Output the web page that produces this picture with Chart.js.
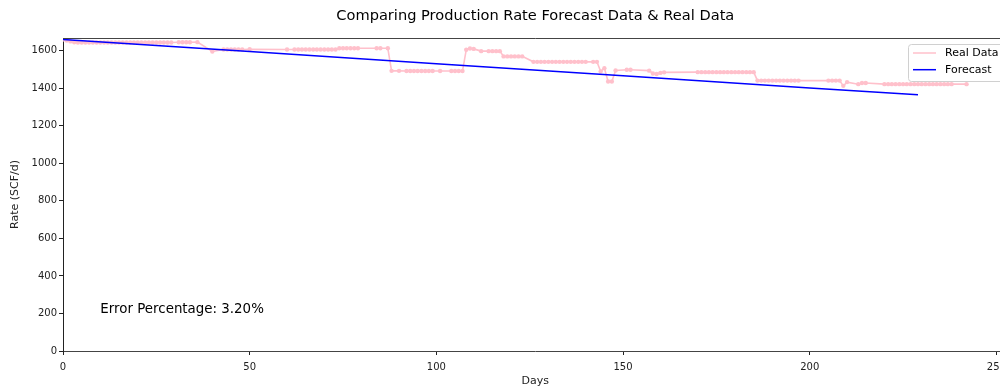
<!DOCTYPE html>
<html lang="en">
<head>
    <meta charset="UTF-8">
    <title>Production Rate Forecast vs Real Data</title>
    <script src="https://cdn.jsdelivr.net/npm/chart.js"></script>
    <style>
        body {
            margin: 0;
            overflow: hidden;
            background: white;
            font-family: "DejaVu Sans", sans-serif;
        }
    </style>
</head>
<body>
<canvas id="rateChart" width="1012" height="389"></canvas>

<script>
    // real production data (days / rate)
    const realDays = [0, 1, 2, 3, 4, 5, 6, 7, 8, 9, 10, 11, 12, 13, 14, 15, 16, 17, 18, 19, 20, 21, 22, 23, 24, 25, 26, 27, 28, 29,
        31, 32, 33, 34, 36, 40, 43, 44, 45, 46, 47, 48, 50,
        60, 62, 63, 64, 65, 66, 67, 68, 69, 70, 71, 72, 73, 74, 75, 76, 77, 78, 79, 84, 85, 87,
        88, 90, 92, 93, 94, 95, 96, 97, 98, 99, 101, 104, 105, 106, 107,
        108, 109, 110, 112, 114, 115, 116, 117, 118, 119, 120, 121, 122, 123,
        126, 127, 128, 129, 130, 131, 132, 133, 134, 135, 136, 137, 138, 139, 140, 142, 143,
        144, 145, 146, 147, 148, 151, 152, 157, 158, 159, 160, 161,
        170, 171, 172, 173, 174, 175, 176, 177, 178, 179, 180, 181, 182, 183, 184, 185,
        186, 187, 188, 189, 190, 191, 192, 193, 194, 195, 196, 197, 205, 206, 207, 208, 209, 210, 213, 214, 215,
        220, 221, 222, 223, 224, 225, 226, 227, 228, 229, 230, 231, 232, 233, 234, 235, 236, 237, 238, 242];
    const realRates = [1660, 1655, 1650, 1645, 1644, 1644, 1644, 1644, 1644, 1644, 1644, 1644, 1644, 1644, 1644, 1644, 1644, 1644, 1644, 1644, 1644, 1644, 1644, 1644, 1644, 1644, 1644, 1644, 1644, 1644,
        1645, 1645, 1645, 1645, 1646, 1596, 1607, 1607, 1607, 1607, 1607, 1607, 1608,
        1607, 1607, 1607, 1607, 1607, 1607, 1607, 1607, 1607, 1607, 1607, 1607, 1607, 1613, 1613, 1613, 1613, 1613, 1613, 1613, 1613, 1613,
        1493, 1493, 1492, 1492, 1492, 1492, 1492, 1492, 1492, 1492, 1492, 1492, 1492, 1492, 1492,
        1605, 1612, 1610, 1598, 1598, 1598, 1598, 1598, 1570, 1570, 1570, 1570, 1570, 1570,
        1541, 1541, 1541, 1541, 1541, 1541, 1541, 1541, 1541, 1541, 1541, 1541, 1541, 1541, 1541, 1541, 1541,
        1490, 1507, 1436, 1436, 1495, 1499, 1499, 1494, 1479, 1476, 1482, 1485,
        1486, 1486, 1486, 1486, 1486, 1486, 1486, 1486, 1486, 1486, 1486, 1486, 1486, 1486, 1486, 1486,
        1441, 1441, 1441, 1441, 1441, 1441, 1441, 1441, 1441, 1441, 1441, 1441, 1441, 1441, 1441, 1441, 1413, 1433, 1422, 1428, 1428,
        1422, 1422, 1422, 1422, 1422, 1422, 1422, 1422, 1422, 1422, 1422, 1422, 1422, 1422, 1422, 1422, 1422, 1422, 1422, 1422];

    // forecast line
    const forecastDays = [0, 50, 100, 150, 200, 229];
    const forecastRates = [1660, 1596, 1531, 1467, 1402, 1365];

    const xTicks = [0, 50, 100, 150, 200, 250];
    const yTicks = [0, 200, 400, 600, 800, 1000, 1200, 1400, 1600];

    const errorText = 'Error Percentage: 3.20%';
    const chartTitle = 'Comparing Production Rate Forecast Data & Real Data';

    const toPoints = (xs, ys) => xs.map((x, i) => ({ x: x, y: ys[i] }));

    // draws title, top spine, legend box and the error note
    const extras = {
        id: 'extras',
        afterDraw(chart) {
            const ctx = chart.ctx;
            const area = chart.chartArea;
            const xs = chart.scales.x;
            const ys = chart.scales.y;
            ctx.save();

            // top spine
            ctx.strokeStyle = '#444';
            ctx.lineWidth = 1;
            ctx.beginPath();
            ctx.moveTo(area.left, area.top + 0.5);
            ctx.lineTo(area.right, area.top + 0.5);
            ctx.stroke();

            // title
            ctx.fillStyle = '#000';
            ctx.font = '14.6px "DejaVu Sans"';
            ctx.textAlign = 'center';
            ctx.textBaseline = 'middle';
            ctx.fillText(chartTitle, (area.left + area.right) / 2, 16);

            // error note at data position
            ctx.font = '13.4px "DejaVu Sans"';
            ctx.textAlign = 'left';
            ctx.textBaseline = 'alphabetic';
            ctx.fillText(errorText, xs.getPixelForValue(10), ys.getPixelForValue(200));

            // legend
            const lx = 908, ly = 44, lw = 110, lh = 37;
            ctx.fillStyle = 'rgba(255,255,255,0.8)';
            ctx.strokeStyle = '#d0d0d0';
            ctx.lineWidth = 1;
            ctx.beginPath();
            ctx.roundRect(lx + 0.5, ly + 0.5, lw, lh, 3);
            ctx.fill();
            ctx.stroke();
            const items = [
                { label: 'Real Data', color: 'pink' },
                { label: 'Forecast', color: 'blue' }
            ];
            ctx.font = '11px "DejaVu Sans"';
            ctx.textBaseline = 'middle';
            items.forEach((it, i) => {
                const y = 53 + i * 16.7;
                ctx.strokeStyle = it.color;
                ctx.lineWidth = 1.5;
                ctx.beginPath();
                ctx.moveTo(913, y);
                ctx.lineTo(936, y);
                ctx.stroke();
                ctx.fillStyle = '#000';
                ctx.fillText(it.label, 945, y);
            });
            ctx.restore();
        }
    };

    const ctx = document.getElementById('rateChart').getContext('2d');
    new Chart(ctx, {
        type: 'line',
        data: {
            datasets: [{
                label: 'Real Data',
                data: toPoints(realDays, realRates),
                borderColor: 'pink',
                backgroundColor: 'pink',
                borderWidth: 1.6,
                pointRadius: 2.2,
                pointBorderWidth: 0,
                pointBackgroundColor: 'pink',
                tension: 0,
                order: 2
            }, {
                label: 'Forecast',
                data: toPoints(forecastDays, forecastRates),
                borderColor: 'blue',
                borderWidth: 1.5,
                pointRadius: 0,
                tension: 0,
                order: 1
            }]
        },
        options: {
            responsive: false,
            animation: false,
            layout: {
                padding: { left: 0, right: 3, top: 38, bottom: 0 }
            },
            plugins: {
                legend: { display: false },
                title: { display: false },
                tooltip: { enabled: false }
            },
            scales: {
                x: {
                    type: 'linear',
                    min: 0,
                    max: 253,
                    afterBuildTicks: axis => { axis.ticks = xTicks.map(v => ({ value: v })); },
                    afterFit: axis => { axis.height = 38; },
                    ticks: {
                        color: '#222',
                        font: { family: 'DejaVu Sans', size: 10 },
                        padding: 6,
                        maxRotation: 0,
                        callback: v => String(v)
                    },
                    grid: {
                        drawOnChartArea: false,
                        color: '#222',
                        tickLength: 4
                    },
                    border: { color: '#444', width: 1 },
                    title: {
                        display: true,
                        text: 'Days',
                        color: '#222',
                        font: { family: 'DejaVu Sans', size: 11 },
                        padding: { top: 0, bottom: 1 }
                    }
                },
                y: {
                    min: 0,
                    max: 1668,
                    afterBuildTicks: axis => { axis.ticks = yTicks.map(v => ({ value: v })); },
                    afterFit: axis => { axis.width = 63; },
                    ticks: {
                        color: '#222',
                        font: { family: 'DejaVu Sans', size: 10 },
                        padding: 2,
                        callback: v => String(v)
                    },
                    grid: {
                        drawOnChartArea: false,
                        color: '#222',
                        tickLength: 4
                    },
                    border: { color: '#222', width: 1 },
                    title: {
                        display: true,
                        text: 'Rate (SCF/d)',
                        color: '#222',
                        font: { family: 'DejaVu Sans', size: 11 },
                        padding: { top: 9, bottom: 0 }
                    }
                }
            }
        },
        plugins: [extras]
    });
</script>
</body>
</html>
